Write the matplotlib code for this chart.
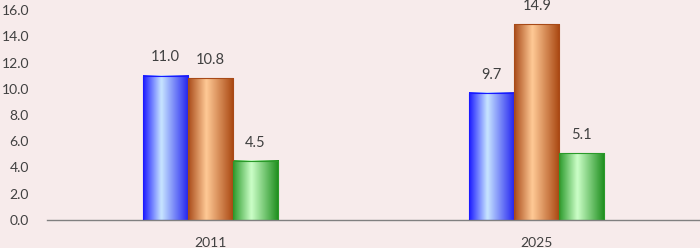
import numpy as np
import matplotlib.pyplot as plt
from matplotlib.colors import LinearSegmentedColormap

# data
years = ['2011', '2025']
series_a = [11.0, 9.7]
series_b = [10.8, 14.9]
series_c = [4.5, 5.1]
yticks = np.arange(0, 17, 2)

bg = '#f7ebeb'
txt = '#404040'

plt.rcParams['font.family'] = ['Lato', 'DejaVu Sans']

fig = plt.figure(figsize=(7, 2.48), dpi=100, facecolor=bg)
ax = fig.add_axes([47 / 700, 1 - 220 / 248, 1 - 47 / 700, 210 / 248])
ax.set_facecolor(bg)

# gradient stops per series: dark edge, light highlight, dark edge
styles = [
    ('#1a1aff', '#c8e6ff', '#2020f0'),
    ('#a84a18', '#ffca96', '#a8450f'),
    ('#2a9a2a', '#ccffc8', '#1a8c1a'),
]

x = np.arange(len(years))
w = 0.138
offsets = [-w, 0, w]
grad = np.linspace(0, 1, 256).reshape(1, -1)

for vals, off, (c1, c2, c3) in zip([series_a, series_b, series_c], offsets, styles):
    cmap = LinearSegmentedColormap.from_list('g', [(0, c1), (0.4, c2), (1, c3)])
    bars = ax.bar(x + off, vals, width=w, facecolor='none', edgecolor=c1,
                  linewidth=0.8, zorder=3)
    for b, v in zip(bars, vals):
        x0, x1 = b.get_x(), b.get_x() + b.get_width()
        ax.imshow(grad, cmap=cmap, extent=(x0, x1, 0, v), aspect='auto',
                  zorder=2, interpolation='bicubic')
        ax.text(b.get_x() + b.get_width() / 2, v + 0.85, f'{v:.1f}',
                ha='center', va='bottom', fontsize=10.5, color=txt)

ax.set_xlim(-0.5, 1.5)
ax.set_ylim(0, 16)
ax.set_xticks(x)
ax.set_xticklabels(years)
ax.set_yticks(yticks)
ax.set_yticklabels([f'{t:.1f}' for t in yticks])
ax.tick_params(axis='both', length=0, labelsize=10, colors=txt)
ax.tick_params(axis='x', pad=12)
ax.tick_params(axis='y', pad=13)
for s in ['top', 'right', 'left']:
    ax.spines[s].set_visible(False)
ax.spines['bottom'].set_color('#808080')
ax.spines['bottom'].set_linewidth(1)

fig.savefig('out.png', dpi=100, facecolor=bg)
